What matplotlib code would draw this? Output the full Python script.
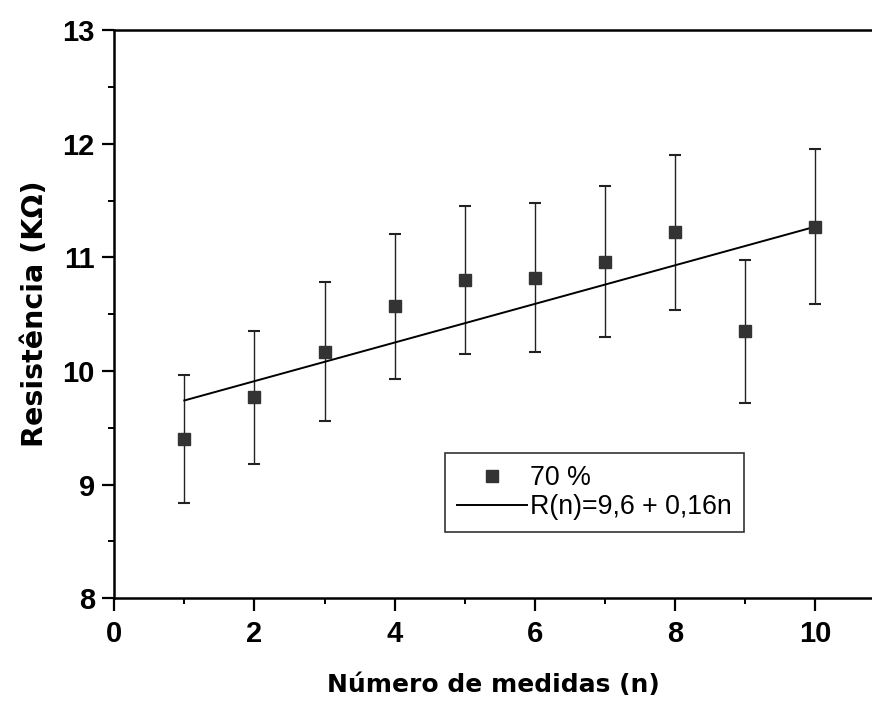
import matplotlib
matplotlib.use("Agg")
import matplotlib.pyplot as plt
import numpy as np
from matplotlib.ticker import MultipleLocator

# medidas (70 %)
n = [1, 2, 3, 4, 5, 6, 7, 8, 9, 10]
resist = [9.40, 9.77, 10.17, 10.57, 10.80, 10.82, 10.96, 11.22, 10.35, 11.27]
erro = [0.565, 0.585, 0.615, 0.64, 0.655, 0.655, 0.665, 0.68, 0.63, 0.68]

# ajuste linear desenhado
fit_a = 9.57
fit_b = 0.17
fit_label = "R(n)=9,6 + 0,16n"
data_label = "70 %"

plt.rcParams["font.family"] = ["Liberation Sans", "DejaVu Sans"]

fig = plt.figure(figsize=(8.72, 7.02), dpi=100)
ax = fig.add_axes([0.131, 0.148, 0.869, 0.809])

ax.errorbar(n, resist, yerr=erro, fmt="none", ecolor="#222222",
            elinewidth=1.0, capsize=4.5, capthick=1.5)
ax.plot(n, resist, "s", color="#333333", markersize=9, label=data_label,
        zorder=3)
nn = np.array([n[0], n[-1]])
ax.plot(nn, fit_a + fit_b * nn, "-", color="black", lw=1.4, label=fit_label)

ax.set_xlim(0, 10.81)
ax.set_ylim(8, 13)
ax.xaxis.set_major_locator(MultipleLocator(2))
ax.xaxis.set_minor_locator(MultipleLocator(1))
ax.yaxis.set_major_locator(MultipleLocator(1))
ax.yaxis.set_minor_locator(MultipleLocator(0.5))

ax.tick_params(which="major", direction="out", length=9, width=1.6,
               labelsize=21)
ax.tick_params(axis="y", which="major", pad=5)
ax.tick_params(axis="x", which="major", pad=7)
ax.tick_params(which="minor", direction="out", length=4, width=1.4)
ax.tick_params(axis="x", which="both", top=False)
ax.tick_params(axis="y", which="both", right=False)
for lab in ax.get_xticklabels() + ax.get_yticklabels():
    lab.set_fontweight("bold")

ax.spines["right"].set_visible(False)
for s in ["left", "bottom", "top"]:
    ax.spines[s].set_linewidth(1.8)

ax.set_xlabel("Número de medidas (n)", fontsize=18, fontweight="bold",
              family="DejaVu Sans", labelpad=18)
ax.set_ylabel("Resistência (KΩ)", fontsize=20.5, fontweight="bold",
              family="DejaVu Sans", labelpad=10)

leg = ax.legend(loc="lower left", bbox_to_anchor=(0.437, 0.116),
                fontsize=19.3, frameon=True, fancybox=False, edgecolor="black",
                handlelength=2.6, handletextpad=0.1, borderpad=0.45,
                labelspacing=0.12, borderaxespad=0)
leg.get_frame().set_linewidth(1.2)

fig.savefig("out.png", dpi=100)
